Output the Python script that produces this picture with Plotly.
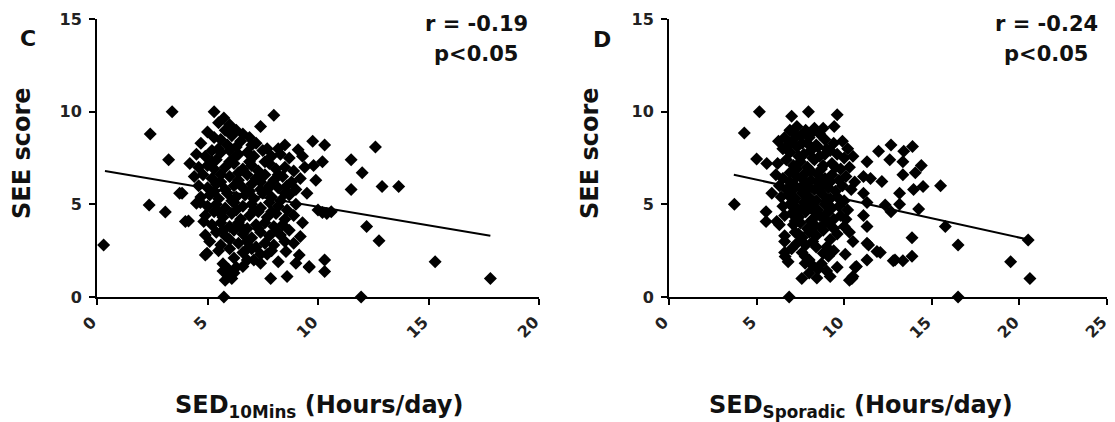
import plotly.graph_objects as go

# ---------------- Panel C data: SED 10Mins vs SEE score ----------------
c_x = [
    5.3, 5.74, 5.5, 6.0, 6.3, 5.8, 7.4, 8.0, 6.6,
    5.0, 5.3, 5.6, 6.1, 6.5, 6.9, 7.2, 4.7, 5.9, 8.5, 9.1, 9.76, 10.3, 7.7, 8.2,
    4.5, 4.9, 5.2, 5.6, 6.0, 6.4, 6.8, 7.1, 7.5, 7.9, 8.3, 8.7, 9.3, 5.4, 6.2,
    4.2, 4.6, 5.0, 5.3, 5.8, 6.2, 6.6, 7.0, 7.3, 7.8, 8.1, 8.5, 8.9, 9.8, 10.2, 9.4,
    4.4, 4.8, 5.2, 5.6, 6.0, 6.4, 6.8, 7.2, 7.6, 8.0, 8.4, 8.8, 9.2, 9.9,
    4.6, 5.0, 5.4, 5.8, 6.2, 6.6, 7.0, 7.4, 7.8, 8.2, 8.6, 9.0, 9.5,
    4.7, 5.1, 5.5, 5.9, 6.3, 6.7, 7.1, 7.5, 7.9, 8.3, 8.7, 3.85, 3.74,
    4.5, 4.68, 5.0, 5.4, 5.8, 6.2, 6.6, 7.0, 7.4, 7.8, 8.2, 8.6, 9.0, 10.0, 10.2, 10.4, 2.36,
    4.9, 5.3, 5.7, 6.1, 6.5, 6.9, 7.3, 7.7, 8.1, 8.5, 8.9, 3.09,
    4.0, 4.14, 4.83, 5.2, 5.6, 6.0, 6.4, 6.8, 7.2, 7.6, 8.0, 8.4, 9.3,
    4.9, 5.4, 5.8, 6.2, 6.6, 7.0, 7.4, 7.8, 8.3, 9.2, 8.7,
    5.1, 5.6, 6.0, 6.4, 6.8, 7.2, 7.6, 8.0, 8.5,
    4.98, 4.9, 5.5, 6.2, 6.6, 7.0, 7.4, 7.9, 8.55, 9.15,
    6.8, 6.6, 7.4, 9.0, 9.6, 10.3, 5.7, 7.1, 8.2,
    5.9, 5.8, 6.1, 5.7, 6.2, 7.86, 8.6, 10.3, 9.6,
    0.3, 3.4, 2.41, 3.24, 5.74,
    11.5, 12.0, 11.5, 12.6, 12.9, 13.65, 12.2, 12.76, 15.3, 17.8, 11.95, 10.6,
    5.5, 6.3, 7.0, 5.2, 6.0, 6.9, 7.6, 5.6, 6.4, 7.4, 8.2, 5.3, 6.1, 6.9, 7.7,
    8.5, 5.5, 6.3, 7.1, 7.9, 5.7, 6.5, 7.3, 8.1, 6.0, 6.8, 7.7, 6.3, 5.95, 8.9,
]
c_y = [
    10.0, 9.66, 9.4, 9.3, 9.0, 9.0, 9.2, 9.8, 8.8,
    8.9, 8.6, 8.5, 8.7, 8.4, 8.6, 8.3, 8.3, 8.2, 8.2, 7.95, 8.4, 8.2, 8.0, 8.0,
    7.7, 7.6, 7.9, 7.8, 7.9, 7.7, 7.8, 7.6, 7.9, 7.6, 7.7, 7.5, 7.6, 7.4, 7.5,
    7.2, 7.0, 7.1, 6.9, 7.0, 7.2, 6.9, 7.1, 6.8, 7.2, 6.9, 7.0, 6.8, 7.1, 7.3, 7.0,
    6.5, 6.6, 6.4, 6.6, 6.5, 6.3, 6.6, 6.4, 6.6, 6.3, 6.5, 6.2, 6.4, 6.3,
    6.0, 5.9, 6.1, 5.8, 6.0, 5.9, 6.1, 5.8, 6.0, 5.9, 6.0, 5.8, 5.6,
    5.4, 5.5, 5.3, 5.6, 5.4, 5.5, 5.3, 5.6, 5.4, 5.2, 5.5, 5.6, 5.6,
    5.06, 5.1, 4.9, 5.0, 4.8, 5.1, 4.9, 5.0, 4.8, 5.1, 4.9, 4.7, 5.0, 4.7, 4.56, 4.5, 4.97,
    4.4, 4.6, 4.3, 4.5, 4.2, 4.4, 4.6, 4.3, 4.5, 4.2, 4.4, 4.58,
    4.07, 4.1, 4.07, 3.9, 4.0, 3.8, 4.0, 3.7, 3.9, 4.0, 3.8, 3.9, 4.0,
    3.35, 3.5, 3.3, 3.6, 3.4, 3.2, 3.5, 3.3, 3.35, 3.26, 3.6,
    3.0, 2.8, 3.1, 2.9, 3.0, 2.7, 2.9, 2.8, 3.0,
    2.36, 2.27, 2.5, 2.1, 2.4, 2.6, 2.3, 2.5, 2.45, 2.27,
    2.0, 1.64, 1.82, 1.82, 1.64, 2.0, 1.8, 2.0, 1.9,
    1.2, 0.9, 1.0, 1.4, 1.3, 1.0, 1.1, 1.37, 1.6,
    2.8, 10.0, 8.8, 7.4, 0.0,
    7.4, 6.7, 5.8, 8.1, 5.96, 5.96, 3.8, 3.04, 1.9, 1.0, 0.0, 4.6,
    8.0, 8.1, 8.2, 7.3, 7.3, 7.3, 7.3, 6.2, 6.7, 6.2, 6.6, 5.7, 5.2, 5.7, 5.8,
    5.6, 4.6, 4.7, 4.7, 4.6, 3.6, 3.8, 3.7, 3.6, 2.6, 2.6, 2.3, 1.6, 1.5, 2.9,
]
c_fit_x = [0.36, 17.8]
c_fit_y = [6.8, 3.3]

# ---------------- Panel D data: SED Sporadic vs SEE score ----------------
d_x = [
    7.0, 7.96, 9.6, 9.43, 7.3, 7.8, 8.3, 6.9, 8.6, 7.5,
    6.25, 6.6, 7.1, 7.6, 8.0, 8.4, 8.9, 9.4, 9.9, 10.2, 9.2,
    6.5, 6.9, 7.3, 7.7, 8.1, 8.6, 9.0, 9.6, 10.0, 10.5,
    5.0, 5.58, 6.2, 6.7, 7.1, 7.5, 7.9, 8.3, 8.8, 9.3, 9.8, 10.3, 11.3,
    6.1, 6.5, 6.9, 7.3, 7.7, 8.1, 8.5, 8.9, 9.3, 9.7, 10.1, 10.6, 11.1, 11.5,
    6.3, 6.7, 7.1, 7.5, 7.9, 8.3, 8.7, 9.1, 9.5, 9.9, 10.4,
    5.87, 6.4, 6.8, 7.2, 7.6, 8.0, 8.4, 8.8, 9.2, 9.6, 10.0, 11.1, 11.3,
    3.73, 6.5, 6.9, 7.3, 7.7, 8.1, 8.5, 8.9, 9.3, 9.7, 10.2,
    5.54, 6.6, 7.0, 7.4, 7.8, 8.2, 8.6, 9.0, 9.4, 9.8, 11.1,
    5.54, 6.15, 6.3, 7.1, 7.5, 7.9, 8.3, 8.7, 9.1, 10.1, 10.0, 11.3,
    6.6, 7.2, 7.6, 8.0, 8.4, 8.8, 9.2, 10.3, 9.6,
    6.6, 7.3, 7.8, 8.2, 10.5, 11.3, 11.39, 9.0,
    6.6, 7.6, 8.8, 10.06, 11.87, 12.06, 6.63, 7.77, 9.4,
    8.0, 7.77, 11.3, 12.8, 13.35, 13.87, 12.9,
    8.2, 8.5, 10.7, 10.63, 9.0,
    7.58, 8.44, 9.2, 10.44, 10.3, 10.5,
    4.3, 5.16, 6.86, 16.5, 20.5, 20.6, 19.5, 16.5, 15.77, 13.87, 15.5,
    12.67, 13.9, 13.4, 12.6, 13.35, 14.4, 14.06, 13.35, 12.15, 13.96, 14.5, 13.16,
    13.16, 12.34, 12.67, 14.25, 11.96,
    7.2, 8.2, 8.8, 6.8, 7.9, 8.5, 7.4, 8.2, 8.9, 7.3, 8.1, 8.7, 9.5, 6.9, 7.7,
    8.5, 9.2, 7.0, 7.8, 8.6, 9.0, 7.1, 7.9, 7.5, 8.3, 8.9, 7.2, 8.1, 7.4, 8.2,
    9.4, 7.0, 8.4, 9.1, 8.7, 8.0, 9.6, 6.8,
]
d_y = [
    9.75, 10.0, 9.84, 9.2, 9.2, 9.0, 9.1, 9.0, 8.8, 8.7,
    8.4, 8.6, 8.5, 8.3, 8.6, 8.2, 8.5, 8.3, 8.4, 8.0, 7.9,
    8.0, 7.8, 8.1, 7.7, 7.9, 7.6, 8.0, 7.7, 7.5, 7.6,
    7.44, 7.2, 7.2, 7.4, 7.1, 7.3, 7.0, 7.4, 7.1, 7.2, 6.9, 7.0, 7.3,
    6.6, 6.4, 6.7, 6.5, 6.6, 6.3, 6.6, 6.4, 6.6, 6.3, 6.5, 6.2, 6.5, 6.4,
    6.0, 5.8, 6.1, 5.9, 6.0, 5.8, 6.1, 5.9, 5.7, 6.0, 5.8,
    5.6, 5.4, 5.5, 5.3, 5.6, 5.4, 5.2, 5.5, 5.3, 5.4, 5.2, 5.6, 5.1,
    5.0, 4.9, 5.0, 4.8, 5.1, 4.9, 4.7, 5.0, 4.8, 4.9, 4.7,
    4.6, 4.4, 4.5, 4.3, 4.6, 4.2, 4.4, 4.5, 4.2, 4.4, 4.4,
    4.07, 4.07, 3.9, 3.9, 4.0, 3.7, 3.9, 3.8, 4.0, 4.2, 3.8, 3.8,
    3.3, 3.5, 3.2, 3.5, 3.3, 3.6, 3.1, 3.5, 3.4,
    3.0, 2.9, 2.8, 3.0, 3.0, 2.9, 2.8, 2.7,
    2.4, 2.4, 2.36, 2.3, 2.45, 2.4, 2.18, 2.18, 2.5,
    2.0, 1.82, 2.0, 1.96, 1.96, 2.2, 2.0,
    1.7, 1.5, 1.64, 1.6, 1.4,
    1.0, 1.03, 1.1, 1.0, 0.9, 1.1,
    8.85, 10.0, 0.0, 0.0, 3.08, 1.0, 1.9, 2.8, 3.8, 3.2, 6.0,
    8.2, 8.12, 7.86, 7.4, 7.3, 7.1, 6.7, 6.6, 6.23, 5.8, 5.96, 5.6,
    5.0, 4.97, 4.6, 4.75, 7.86,
    8.8, 8.9, 9.1, 8.2, 8.3, 8.1, 7.6, 7.5, 7.7, 6.9, 6.8, 6.9, 7.0, 6.2, 6.3,
    6.2, 6.2, 5.7, 5.8, 5.7, 5.2, 5.2, 5.2, 4.7, 4.6, 4.2, 4.1, 4.1, 3.4, 3.7,
    3.7, 2.6, 2.7, 2.2, 1.8, 1.3, 1.6, 1.9,
]
d_fit_x = [3.7, 20.5]
d_fit_y = [6.6, 3.1]

x_ticks_c = [0, 5, 10, 15, 20]
x_ticks_d = [0, 5, 10, 15, 20, 25]
y_ticks = [0, 5, 10, 15]

W, H = 1115, 422
FONT = "DejaVu Sans, Verdana, sans-serif"


def px(x):
    return x / W


def py(y):
    return 1 - y / H


fig = go.Figure()
marker = dict(symbol="diamond", size=10, color="black", line=dict(width=0))
fig.add_trace(go.Scatter(x=c_x, y=c_y, mode="markers", marker=marker,
                         cliponaxis=False, xaxis="x", yaxis="y", showlegend=False))
fig.add_trace(go.Scatter(x=c_fit_x, y=c_fit_y, mode="lines",
                         line=dict(color="black", width=2), xaxis="x", yaxis="y", showlegend=False))
fig.add_trace(go.Scatter(x=d_x, y=d_y, mode="markers", marker=marker,
                         cliponaxis=False, xaxis="x2", yaxis="y2", showlegend=False))
fig.add_trace(go.Scatter(x=d_fit_x, y=d_fit_y, mode="lines",
                         line=dict(color="black", width=2), xaxis="x2", yaxis="y2", showlegend=False))

ydom = [py(297), py(19)]
axis_common = dict(showline=True, linecolor="black", linewidth=2, ticks="outside",
                   ticklen=6, tickwidth=2, tickcolor="black", showgrid=False,
                   zeroline=False, automargin=False)
ytickfont = dict(family=FONT, size=16, color="#222", weight="bold")

fig.update_layout(
    template="none",
    width=W, height=H, autosize=False,
    margin=dict(l=0, r=0, t=0, b=0, pad=0, autoexpand=False),
    paper_bgcolor="white", plot_bgcolor="white",
    showlegend=False,
    xaxis=dict(domain=[px(97), px(539)], range=[0, 20], tickvals=x_ticks_c,
               showticklabels=False, anchor="y", **axis_common),
    yaxis=dict(domain=ydom, range=[0, 15], tickvals=y_ticks, anchor="x",
               tickfont=ytickfont, ticklabelstandoff=4, **axis_common),
    xaxis2=dict(domain=[px(669), px(1107)], range=[0, 25], tickvals=x_ticks_d,
                showticklabels=False, anchor="y2", **axis_common),
    yaxis2=dict(domain=ydom, range=[0, 15], tickvals=y_ticks, anchor="x2",
                tickfont=ytickfont, ticklabelstandoff=4, **axis_common),
)

# rotated x tick labels
for xref, ticks in (("x", x_ticks_c), ("x2", x_ticks_d)):
    for t in ticks:
        fig.add_annotation(x=t, xref=xref, y=py(310), yref="paper", text=str(t),
                           textangle=-45, xanchor="right", yanchor="top", xshift=6,
                           showarrow=False,
                           font=dict(family=FONT, size=16, color="#222", weight="bold"))

big = dict(family=FONT, size=21, color="#111", weight="bold")
title_font = dict(family=FONT, size=24, color="#111", weight="bold")
ann = [
    dict(text="SEE score", x=px(22), y=py(153), textangle=-90, font=title_font),
    dict(text="SEE score", x=px(590), y=py(153), textangle=-90, font=title_font),
    dict(text="SED<sub>10Mins</sub> (Hours/day)", x=px(319), y=py(406), font=title_font),
    dict(text="SED<sub>Sporadic</sub> (Hours/day)", x=px(861), y=py(406), font=title_font),
    dict(text="C", x=px(28), y=py(38), font=dict(family=FONT, size=22, color="#111", weight="bold")),
    dict(text="D", x=px(602), y=py(40), font=dict(family=FONT, size=22, color="#111", weight="bold")),
    dict(text="r = -0.19", x=px(476), y=py(24), font=big),
    dict(text="p<0.05", x=px(476), y=py(54), font=big),
    dict(text="r = -0.24", x=px(1046), y=py(24), font=big),
    dict(text="p<0.05", x=px(1046), y=py(54), font=big),
]
for a in ann:
    fig.add_annotation(xref="paper", yref="paper", showarrow=False,
                       xanchor="center", yanchor="middle", **a)

post = (
    "var gd=document.getElementById('{plot_id}');"
    "var r=document.documentElement.style;r.margin='0';r.padding='0';r.overflow='hidden';r.height='422px';"
    "var b=document.body.style;b.margin='0';b.padding='0';b.overflow='hidden';b.height='422px';"
    "gd.style.position='fixed';gd.style.top='0px';gd.style.left='0px';"
)

fig.write_html("out.html", config={"displayModeBar": False}, post_script=post)
